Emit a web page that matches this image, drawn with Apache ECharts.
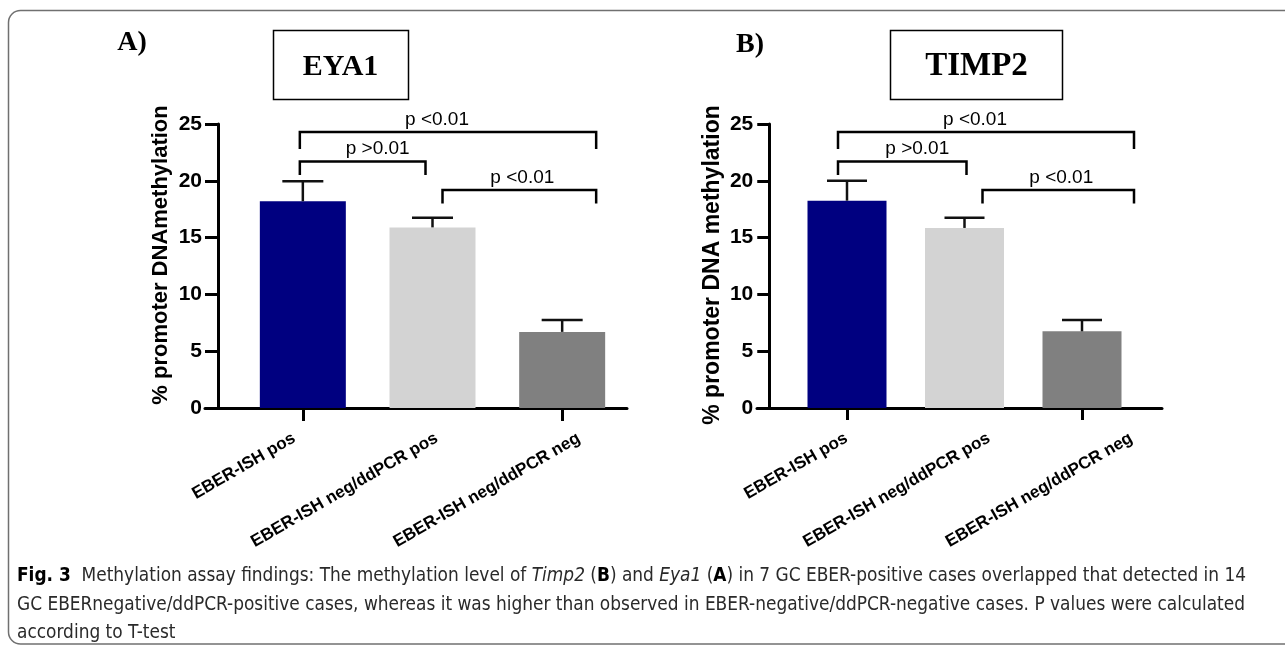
<!DOCTYPE html>
<html>
<head>
<meta charset="utf-8">
<script src="https://cdn.jsdelivr.net/npm/echarts@6/dist/echarts.min.js"></script>
<style>
html,body{margin:0;padding:0;background:#fff;}
#chart{width:1285px;height:647px;}
</style>
</head>
<body>
<div id="chart"></div>
<script>
// ---------- data ----------
const categories = ['EBER-ISH pos', 'EBER-ISH neg/ddPCR pos', 'EBER-ISH neg/ddPCR neg'];
const eya1Mean = [18.2, 15.9, 6.7];
const eya1Sem = [1.75, 0.85, 1.05];
const timp2Mean = [18.25, 15.85, 6.75];
const timp2Sem = [1.75, 0.9, 1.0];
const yMin = 0, yMax = 25, yStep = 5;
const bracketFrom = [0, 0, 1];
const bracketTo = [2, 1, 2];
const bracketLevel = [24.3, 21.7, 19.2];
const bracketDrop = [1.5, 1.2, 1.2];
const bracketText = ['p <0.01', 'p >0.01', 'p <0.01'];
const barColors = ['#000080', '#D3D3D3', '#808080'];

// ---------- layout (pixels) ----------
const L = {
  left:  { main:{left:238, width:389}, line:{left:205, width:422}, lab:{left:223, width:427},
           yOffset:20, tick:13, barW:86, capW:41,
           bFromDx:[-3,-3,10], bToDx:[34,-7,34] },
  right: { main:{left:788.25, width:352.5}, line:{left:757, width:405}, lab:{left:775, width:427.5},
           yOffset:19, tick:12, barW:79, capW:40,
           bFromDx:[-9,-9,18], bToDx:[52,2,52] }
};
const labelDx = [-11, 15, 3];
const TOP = 124, H = 284;
const AX = 'Liberation Sans, Arial, sans-serif';

function grid(g){ return {left:g.left, width:g.width, top:TOP, height:H}; }

const grids = [grid(L.left.main), grid(L.right.main), grid(L.left.line), grid(L.right.line), grid(L.left.lab), grid(L.right.lab)];

function mainX(gi, P){
  return {type:'category', gridIndex:gi, data:categories, boundaryGap:true,
    axisLine:{show:false}, axisLabel:{show:false}, splitLine:{show:false},
    axisTick:{show:true, alignWithLabel:true, length:P.tick, lineStyle:{color:'#000', width:3}}};
}
function lineX(gi){
  return {type:'value', gridIndex:gi, min:0, max:1, axisLine:{show:true, lineStyle:{color:'#000', width:3}},
    axisTick:{show:false}, axisLabel:{show:false}, splitLine:{show:false}};
}
function labX(gi){
  return {type:'category', gridIndex:gi, data:categories, boundaryGap:true,
    axisLine:{show:false}, axisTick:{show:false}, splitLine:{show:false},
    axisLabel:{show:true, interval:0, rotate:30, margin:29, color:'#000', fontFamily:AX, fontWeight:'bold', fontSize:17}};
}
function mainY(gi, P){
  return {type:'value', gridIndex:gi, min:yMin, max:yMax, interval:yStep, offset:P.yOffset,
    axisLine:{show:true, lineStyle:{color:'#000', width:3}},
    axisTick:{show:true, length:P.tick, lineStyle:{color:'#000', width:3}},
    axisLabel:{margin:16, color:'#000', fontFamily:AX, fontWeight:'bold', fontSize:21},
    splitLine:{show:false}};
}
function hiddenY(gi){ return {type:'value', gridIndex:gi, min:0, max:1, show:false}; }

function barSeries(ax, mean, P){
  return {type:'bar', xAxisIndex:ax, yAxisIndex:ax, barWidth:P.barW, silent:true,
    data: mean.map((v,i)=>({value:v, itemStyle:{color:barColors[i]}}))};
}
function errSeries(ax, mean, sem, P){
  return {type:'custom', xAxisIndex:ax, yAxisIndex:ax, silent:true, clip:false, z:3,
    data: mean.map((v,i)=>[i, v, v+sem[i]]),
    renderItem:function(params, api){
      const b = api.coord([api.value(0), api.value(1)]);
      const t = api.coord([api.value(0), api.value(2)]);
      const s = {stroke:'#111', lineWidth:2.5};
      return {type:'group', children:[
        {type:'line', shape:{x1:b[0], y1:b[1], x2:t[0], y2:t[1]}, style:s},
        {type:'line', shape:{x1:t[0]-P.capW/2, y1:t[1], x2:t[0]+P.capW/2, y2:t[1]}, style:s}
      ]};
    }};
}
function bracketSeries(ax, P){
  return {type:'custom', xAxisIndex:ax, yAxisIndex:ax, silent:true, clip:false, z:4,
    data: bracketFrom.map((f,i)=>[f, bracketLevel[i], bracketTo[i], bracketDrop[i]]),
    renderItem:function(params, api){
      const i = params.dataIndex;
      const a = api.coord([api.value(0), api.value(1)]);
      const b = api.coord([api.value(2), api.value(1)]);
      const d = api.coord([api.value(0), api.value(1) - api.value(3)]);
      const x1 = a[0] + P.bFromDx[i], x2 = b[0] + P.bToDx[i];
      return {type:'group', children:[
        {type:'polyline', shape:{points:[[x1,d[1]],[x1,a[1]],[x2,a[1]],[x2,d[1]]]},
          style:{stroke:'#000', lineWidth:2.5, fill:null, lineJoin:'miter'}},
        {type:'text', style:{text:bracketText[i], x:(x1+x2)/2 + labelDx[i], y:a[1]-12.5,
          align:'center', verticalAlign:'middle', fill:'#000', font:'19px ' + AX}}
      ]};
    }};
}

const serif = '"Liberation Serif", "Times New Roman", serif';
const capFont = '"Liberation Sans Narrow", "DejaVu Sans Condensed", sans-serif';
const graphics = [
  {type:'rect', shape:{x:8.5, y:10.5, width:1300, height:633.5, r:12}, style:{fill:null, stroke:'#707070', lineWidth:1.5}, silent:true},
  {type:'text', x:132, y:43, style:{text:'A)', font:'bold 28px ' + serif, fill:'#000', align:'center', verticalAlign:'middle'}},
  {type:'text', x:750, y:45, style:{text:'B)', font:'bold 28px ' + serif, fill:'#000', align:'center', verticalAlign:'middle'}},
  {type:'rect', shape:{x:273.5, y:30.5, width:135, height:69}, style:{fill:null, stroke:'#000', lineWidth:1.5}},
  {type:'text', x:340.5, y:67, style:{text:'EYA1', font:'bold 30px ' + serif, fill:'#000', align:'center', verticalAlign:'middle'}},
  {type:'rect', shape:{x:890.5, y:30.5, width:172, height:69}, style:{fill:null, stroke:'#000', lineWidth:1.5}},
  {type:'text', x:976.5, y:66.5, style:{text:'TIMP2', font:'bold 33px ' + serif, fill:'#000', align:'center', verticalAlign:'middle'}},
  {type:'text', x:161, y:255, rotation:Math.PI/2, style:{text:'% promoter DNAmethylation', font:'bold 22px ' + AX, fill:'#000', align:'center', verticalAlign:'middle'}},
  {type:'text', x:713, y:265, rotation:Math.PI/2, style:{text:'% promoter DNA methylation', font:'bold 23px ' + AX, fill:'#000', align:'center', verticalAlign:'middle'}},
  {type:'text', x:17, y:562, scaleX:0.944, style:{
    text:'{b|Fig. 3}  Methylation assay findings: The methylation level of {i|Timp2} ({bb|B}) and {i|Eya1} ({bb|A}) in 7 GC EBER-positive cases overlapped that detected in 14\nGC EBERnegative/ddPCR-positive cases, whereas it was higher than observed in EBER-negative/ddPCR-negative cases. P values were calculated\naccording to T-test',
    fontFamily:capFont, fontSize:20, fill:'#2a2a2a', lineHeight:28.5,
    verticalAlign:'top', align:'left',
    rich:{
      b:{fontFamily:capFont, fontSize:20, fontWeight:'bold', fill:'#000', lineHeight:28.5},
      bb:{fontFamily:capFont, fontSize:20, fontWeight:'bold', fill:'#000', lineHeight:28.5},
      i:{fontFamily:capFont, fontSize:20, fontStyle:'italic', fill:'#2a2a2a', lineHeight:28.5}
    }}}
];

const chart = echarts.init(document.getElementById('chart'), null, {renderer:'canvas'});
chart.setOption({
  animation:false,
  backgroundColor:'#fff',
  grid: grids,
  xAxis:[mainX(0, L.left), mainX(1, L.right), lineX(2), lineX(3), labX(4), labX(5)],
  yAxis:[mainY(0, L.left), mainY(1, L.right), hiddenY(2), hiddenY(3), hiddenY(4), hiddenY(5)],
  series:[
    barSeries(0, eya1Mean, L.left), errSeries(0, eya1Mean, eya1Sem, L.left), bracketSeries(0, L.left),
    barSeries(1, timp2Mean, L.right), errSeries(1, timp2Mean, timp2Sem, L.right), bracketSeries(1, L.right)
  ],
  graphic: graphics
});
</script>
</body>
</html>
